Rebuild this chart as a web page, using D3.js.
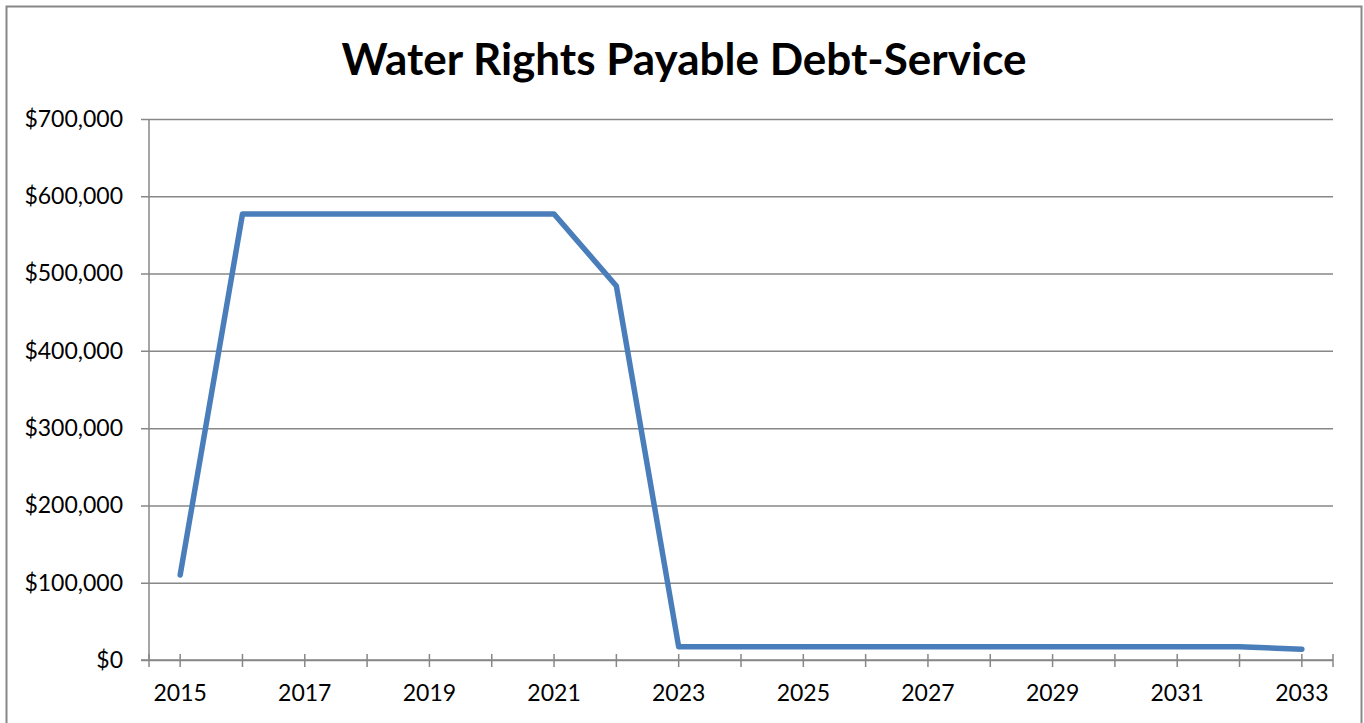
<!DOCTYPE html>
<html>
<head>
<meta charset="utf-8">
<script src="https://cdn.jsdelivr.net/npm/d3@7"></script>
<style>
  html, body { margin: 0; padding: 0; background: #fff; }
  svg { display: block; }
  text { font-family: Lato, "Open Sans", sans-serif; fill: #000; }
</style>
</head>
<body>
<svg id="chart" width="1364" height="723"></svg>
<script>
// Annual debt-service payments, 2015–2033
const years = [2015, 2016, 2017, 2018, 2019, 2020, 2021, 2022, 2023, 2024,
               2025, 2026, 2027, 2028, 2029, 2030, 2031, 2032, 2033];
const payments = [110000, 577000, 577000, 577000, 577000, 577000, 577000, 484000, 17000, 17000,
                  17000, 17000, 17000, 17000, 17000, 17000, 17000, 17000, 14000];
const yTicks = [0, 100000, 200000, 300000, 400000, 500000, 600000, 700000];
const xLabelYears = [2015, 2017, 2019, 2021, 2023, 2025, 2027, 2029, 2031, 2033];
const title = "Water Rights Payable Debt-Service";

const svg = d3.select("#chart");
const W = 1364, H = 723;
const plot = { left: 149, right: 1333, top: 119, bottom: 660 };
const gridColor = "#878787";

// Chart frame
svg.append("rect")
  .attr("x", 6.5).attr("y", 6.5)
  .attr("width", W - 9).attr("height", H + 10)
  .attr("fill", "#fff").attr("stroke", "#888").attr("stroke-width", 2);

const x = d3.scaleBand().domain(years).range([plot.left, plot.right]);
const y = d3.scaleLinear().domain([0, 700000]).range([plot.bottom, plot.top]);

// Horizontal gridlines with outward ticks on the value axis
const yAxis = d3.axisLeft(y)
  .tickValues(yTicks)
  .tickSize(-(plot.right - plot.left))
  .tickFormat(d => "$" + d3.format(",")(d));

const gy = svg.append("g")
  .attr("transform", `translate(${plot.left},0)`)
  .call(yAxis);
gy.select(".domain").remove();
gy.selectAll(".tick line")
  .attr("x1", -8)
  .attr("stroke", gridColor).attr("stroke-width", 1.5);
gy.selectAll(".tick text")
  .attr("x", -26)
  .attr("font-size", 23)
  .attr("font-family", "Lato, sans-serif");

// Value axis line
svg.append("line")
  .attr("x1", plot.left).attr("x2", plot.left)
  .attr("y1", plot.top).attr("y2", plot.bottom)
  .attr("stroke", gridColor).attr("stroke-width", 1.5);

// Category axis line and cross tick marks at each year plus the ends
svg.append("line")
  .attr("x1", plot.left - 8).attr("x2", plot.right)
  .attr("y1", plot.bottom).attr("y2", plot.bottom)
  .attr("stroke", gridColor).attr("stroke-width", 1.5);

const tickXs = years.map(d => x(d) + x.bandwidth() / 2).concat([plot.left, plot.right]);
svg.append("g").selectAll("line")
  .data(tickXs)
  .join("line")
  .attr("x1", d => d).attr("x2", d => d)
  .attr("y1", plot.bottom - 6).attr("y2", plot.bottom + 7)
  .attr("stroke", gridColor).attr("stroke-width", 1.5);

svg.append("g").selectAll("text")
  .data(xLabelYears)
  .join("text")
  .attr("x", d => x(d) + x.bandwidth() / 2)
  .attr("y", 701)
  .attr("text-anchor", "middle")
  .attr("font-size", 23)
  .text(d => d);

// Payment line
const line = d3.line()
  .x((d, i) => x(years[i]) + x.bandwidth() / 2)
  .y(d => y(d));

svg.append("path")
  .datum(payments)
  .attr("d", line)
  .attr("fill", "none")
  .attr("stroke", "#4A7EBB")
  .attr("stroke-width", 5.5)
  .attr("stroke-linejoin", "round")
  .attr("stroke-linecap", "round");

// Title
svg.append("text")
  .attr("x", 684)
  .attr("y", 75)
  .attr("text-anchor", "middle")
  .attr("font-size", 44)
  .attr("font-weight", "bold")
  .text(title);
</script>
</body>
</html>
